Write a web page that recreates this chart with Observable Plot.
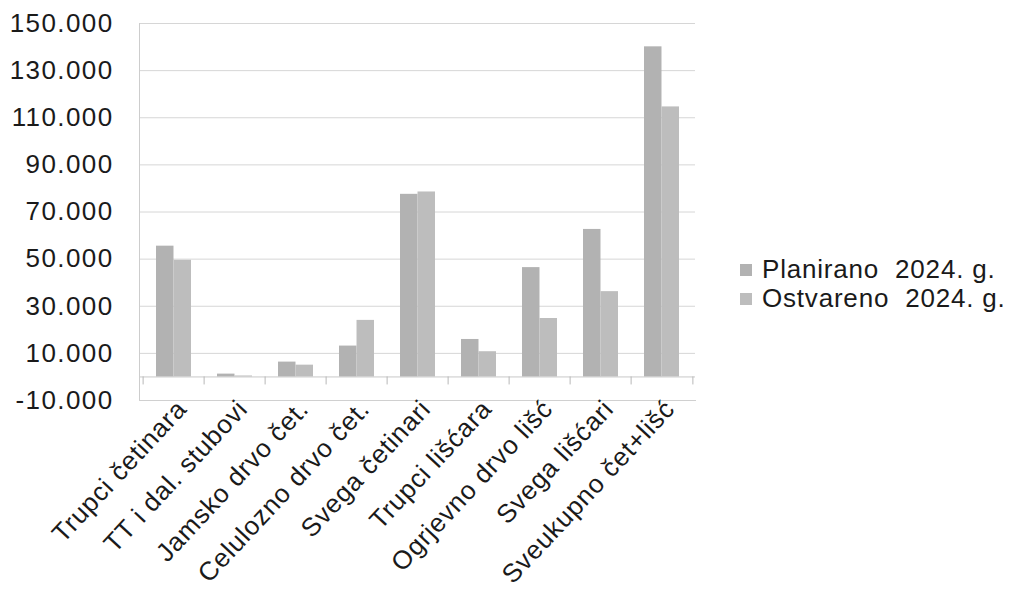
<!DOCTYPE html>
<html><head><meta charset="utf-8">
<script src="https://cdn.jsdelivr.net/npm/d3@7"></script>
<script src="https://cdn.jsdelivr.net/npm/@observablehq/plot@0.6"></script>
<style>
body{margin:0;background:#fff;}
#wrap{position:relative;width:1016px;height:589px;font-family:"Liberation Sans",Arial,sans-serif;}
#legend{position:absolute;left:740px;top:255px;font-size:26px;color:#1a1a1a;letter-spacing:0.8px;}
.row{display:flex;align-items:center;height:29px;white-space:pre;}
.sw{width:12px;height:12px;margin-right:10px;}
#chart g[aria-label="y-axis tick label"] text{letter-spacing:1.4px;}
#chart g[aria-label="x-axis tick label"] text{letter-spacing:0.8px;}
</style></head><body><div id="wrap"><div id="chart"></div><div id="legend"></div></div>
<script>
const categories = ["Trupci četinara", "TT i dal. stubovi", "Jamsko drvo čet.", "Celulozno drvo čet.", "Svega četinari", "Trupci lišćara", "Ogrjevno drvo lišć", "Svega lišćari", "Sveukupno čet+lišć"];
const series = ["Planirano  2024. g.", "Ostvareno  2024. g."];
const planirano = [55500, 1200, 6300, 13100, 77500, 15900, 46400, 62600, 140100];
const ostvareno = [49500, 400, 5000, 24000, 78500, 10700, 24800, 36200, 114600];
const yTicks = [-10000, 10000, 30000, 50000, 70000, 90000, 110000, 130000, 150000];
const colors = ["#b2b2b2", "#bdbdbd"];

const rows = categories.flatMap((c, i) => [
  {category: c, series: series[0], value: planirano[i]},
  {category: c, series: series[1], value: ostvareno[i]}
]);
const fmt = d => (d < 0 ? "-" : "") + d3.format(",")(Math.abs(d)).replace(/,/g, ".");

const W = 1016, H = 589, mL = 139, mR = 321, mT = 23, mB = 189;
const step = (W - mL - mR) / categories.length;
const pad = 0.433;
const bw = step * (1 - pad);

const chart = Plot.plot({
  width: W, height: H, marginLeft: mL, marginRight: mR, marginTop: mT, marginBottom: mB,
  style: {fontFamily: "'Liberation Sans', Arial, sans-serif", fontSize: "25px", color: "#1a1a1a", background: "white"},
  x: {domain: categories, paddingInner: pad, paddingOuter: pad / 2},
  y: {domain: [-10000, 150000]},
  color: {domain: series, range: colors},
  marks: [
    Plot.gridY(yTicks, {stroke: "#d6d6d6", strokeOpacity: 1}),
    Plot.ruleY([0], {stroke: "#c8c8c8"}),
    Plot.frame({anchor: "left", stroke: "#cdcdcd"}),
    Plot.frame({anchor: "bottom", stroke: "#d0d0d0"}),
    Plot.ruleX(categories, {x: d => d, y1: 0, y2: 0, dx: -step / 2, insetBottom: -8, stroke: "#b8b8b8"}),
    Plot.ruleX(categories.slice(-1), {x: d => d, y1: 0, y2: 0, dx: step / 2, insetBottom: -8, stroke: "#b8b8b8"}),
    Plot.barY(rows.filter(d => d.series === series[0]), {x: "category", y: "value", fill: "series", insetRight: bw / 2}),
    Plot.barY(rows.filter(d => d.series === series[1]), {x: "category", y: "value", fill: "series", insetLeft: bw / 2}),
    Plot.axisY(yTicks, {tickSize: 0, tickPadding: 26, tickFormat: fmt, fontSize: 26, label: null}),
    Plot.axisX({tickRotate: -47, tickSize: 0, tickPadding: 4, dx: 8, fontSize: 26, label: null})
  ]
});
document.getElementById("chart").appendChild(chart);

const legend = document.getElementById("legend");
series.forEach((s, i) => {
  const row = document.createElement("div");
  row.className = "row";
  const sw = document.createElement("span");
  sw.className = "sw";
  sw.style.background = colors[i];
  const t = document.createElement("span");
  t.textContent = s;
  row.appendChild(sw); row.appendChild(t);
  legend.appendChild(row);
});
</script>
</body></html>
